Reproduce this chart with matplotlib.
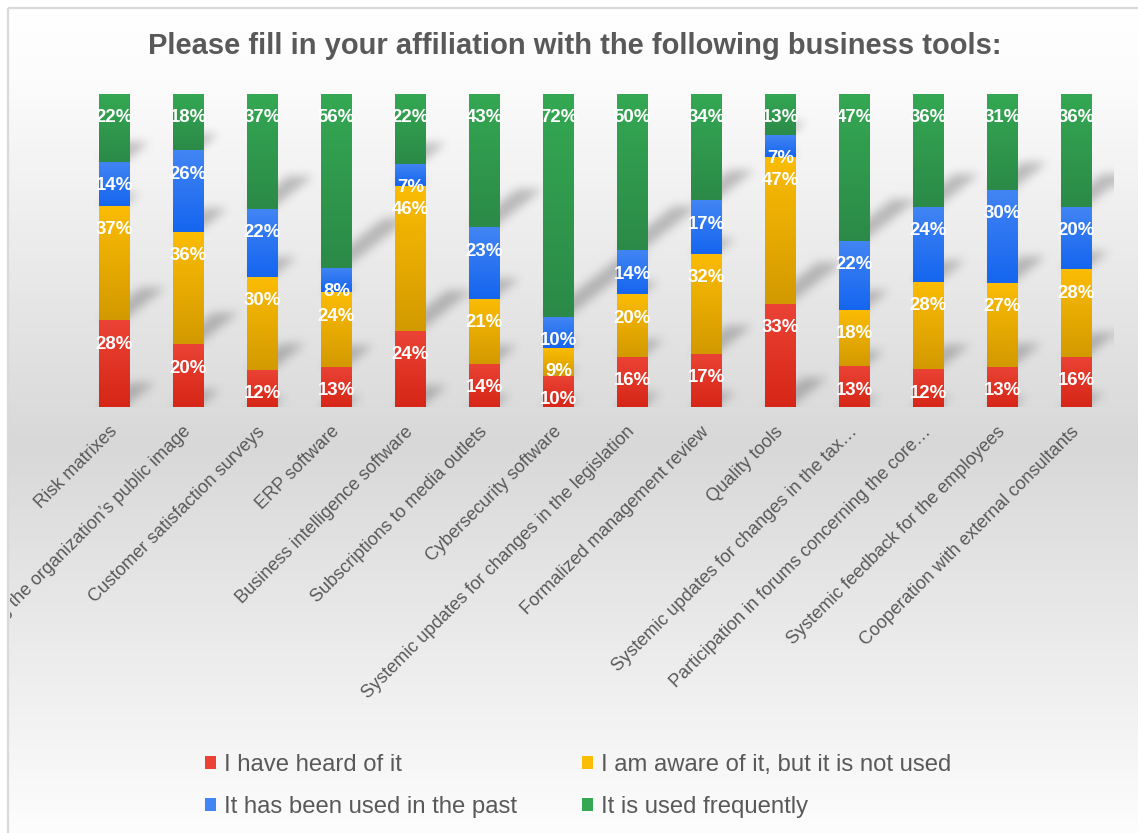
import numpy as np
import matplotlib
matplotlib.use('Agg')
import matplotlib.pyplot as plt
from matplotlib.path import Path
from matplotlib.patches import Patch, Rectangle
from matplotlib.transforms import Bbox
from matplotlib.colors import to_rgb

plt.rcParams['font.family'] = ['Liberation Sans', 'DejaVu Sans']

title = 'Please fill in your affiliation with the following business tools:'
tools = [
    'Risk matrixes',
    'Monitoring the organization\u2019s public image',
    'Customer satisfaction surveys',
    'ERP software',
    'Business intelligence software',
    'Subscriptions to media outlets',
    'Cybersecurity software',
    'Systemic updates for changes in the legislation',
    'Formalized management review',
    'Quality tools',
    'Systemic updates for changes in the tax\u2026',
    'Participation in forums concerning the core\u2026',
    'Systemic feedback for the employees',
    'Cooperation with external consultants',
]
series = [
    'I have heard of it',
    'I am aware of it, but it is not used',
    'It has been used in the past',
    'It is used frequently',
]
heard = [28, 20, 12, 13, 24, 14, 10, 16, 17, 33, 13, 12, 13, 16]
aware = [37, 36, 30, 24, 46, 21, 9, 20, 32, 47, 18, 28, 27, 28]
past = [14, 26, 22, 8, 7, 23, 10, 14, 17, 7, 22, 24, 30, 20]
frequent = [22, 18, 37, 56, 22, 43, 72, 50, 34, 13, 47, 36, 31, 36]

top_colors = ['#ea4335', '#fbbc04', '#4285f4', '#34a853']
bottom_colors = ['#d62617', '#d39a00', '#1565ef', '#2b8a47']
grey_text = '#595959'

W, H = 1138, 833
fig = plt.figure(figsize=(W / 100, H / 100), dpi=100)
fig.patch.set_facecolor('white')

# chart area background: white -> grey -> white vertical gradient
bg = fig.add_axes([0, 0, 1, 1], zorder=-10)
bg.axis('off')
rows = np.arange(H)
lev = np.interp(rows, [0, 70, 430, 833], [255, 252, 216, 255]) / 255
grad = np.repeat(lev[:, None, None], 3, axis=2).repeat(2, axis=1)
bg.imshow(grad, extent=(8, W + 20, H + 20, 7), aspect='auto', interpolation='bilinear')
bg.add_patch(Rectangle((8.5, 7.5), W + 20, H + 20, fill=False, ec='#d9d9d9', lw=1.6))
bg.set_xlim(0, W)
bg.set_ylim(H, 0)

n = len(tools)
x = np.arange(n)
bar_w = 31 / 74
raw = np.array([heard, aware, past, frequent], dtype=float)
shares = raw / raw.sum(axis=0) * 100
bottoms = np.vstack([np.zeros(n), np.cumsum(shares, axis=0)[:-1]])

ax_w, ax_h = 1036, 313
ax = fig.add_axes([77.5 / W, 426 / H, ax_w / W, ax_h / H])
ax.patch.set_visible(False)
for s in ax.spines.values():
    s.set_visible(False)

# perspective shadows behind each segment, rasterised then blurred
sx = ax_w / n
sy = ax_h / 100
gx, gy = np.meshgrid(np.arange(ax_w) + 0.5, np.arange(ax_h) + 0.5)
pts = np.column_stack([gx.ravel(), gy.ravel()])
mask = np.zeros(ax_w * ax_h)
ang = np.deg2rad(38)
for k in range(4):
    for i in range(n):
        X0 = (x[i] - bar_w / 2 + 0.5) * sx
        X1 = X0 + bar_w * sx * 0.8
        Y0 = bottoms[k][i] * sy
        L = 0.45 * shares[k][i] * sy
        dx, dy = L * np.cos(ang), L * np.sin(ang)
        poly = Path([(X0, Y0), (X1, Y0), (X1 + dx, Y0 + dy), (X0 + dx, Y0 + dy), (X0, Y0)])
        mask = np.maximum(mask, poly.contains_points(pts).astype(float))
mask = mask.reshape(ax_h, ax_w)


def box_blur(a, r):
    k = 2 * r + 1
    p = np.pad(a, ((r, r), (0, 0)), mode='edge')
    c = np.vstack([np.zeros((1, a.shape[1])), np.cumsum(p, axis=0)])
    a = (c[k:] - c[:-k]) / k
    p = np.pad(a, ((0, 0), (r, r)), mode='edge')
    c = np.hstack([np.zeros((a.shape[0], 1)), np.cumsum(p, axis=1)])
    return (c[:, k:] - c[:, :-k]) / k


for _ in range(3):
    mask = box_blur(mask, 4)
shadow = np.zeros((ax_h, ax_w, 4))
shadow[..., :3] = 0.3
shadow[..., 3] = 0.34 * mask
ax.imshow(shadow, extent=(-0.5, n - 0.5, 0, 100), origin='lower', aspect='auto',
          zorder=1, interpolation='bilinear')

# stacked segments with a light-to-dark vertical fill
for k in range(4):
    bars = ax.bar(x, shares[k], bar_w, bottom=bottoms[k], color=top_colors[k],
                  linewidth=0, zorder=2)
    c_top, c_bot = np.array(to_rgb(top_colors[k])), np.array(to_rgb(bottom_colors[k]))
    t = np.linspace(0, 1, 64)[:, None]
    fill = (c_bot * (1 - t) + c_top * t)[:, None, :]
    for b in bars:
        im = ax.imshow(fill, extent=(b.get_x(), b.get_x() + b.get_width(),
                                     b.get_y(), b.get_y() + b.get_height()),
                       origin='lower', aspect='auto', zorder=2.1, interpolation='bilinear')
        im.set_clip_path(b)

for k in range(4):
    for i in range(n):
        ax.text(x[i], bottoms[k][i] + shares[k][i] - 7.6, f'{raw[k][i]:.0f}%',
                ha='center', va='center', color='white', fontsize=13.4,
                fontweight='bold', zorder=3)

ax.set_xlim(-0.5, n - 0.5)
ax.set_ylim(0, 100)
ax.set_yticks([])
ax.set_xticks(x)
ax.set_xticklabels(tools, rotation=45, ha='right', va='center',
                   rotation_mode='anchor', fontsize=13.1, color=grey_text)
ax.tick_params(axis='x', length=0, pad=16)
clip = Bbox([[9.5, 0], [W, H]])
for lab in ax.get_xticklabels():
    lab.set_clip_box(clip)
    lab.set_clip_on(True)

fig.text(575 / W, 1 - 46 / H, title, ha='center', va='center', fontsize=21,
         fontweight='bold', color=grey_text)

handles = [Patch(facecolor=c, edgecolor='none') for c in top_colors]
order = [0, 2, 1, 3]
fig.legend([handles[i] for i in order], [series[i] for i in order], ncol=2,
           loc='upper left', bbox_to_anchor=(205 / W, 1 - 754 / H), frameon=False,
           fontsize=17.2, labelcolor=grey_text, handlelength=0.47, handleheight=0.47,
           handletextpad=0.33, columnspacing=2.7, labelspacing=0.85,
           borderaxespad=0, borderpad=0)

fig.savefig('out.png', dpi=100)
